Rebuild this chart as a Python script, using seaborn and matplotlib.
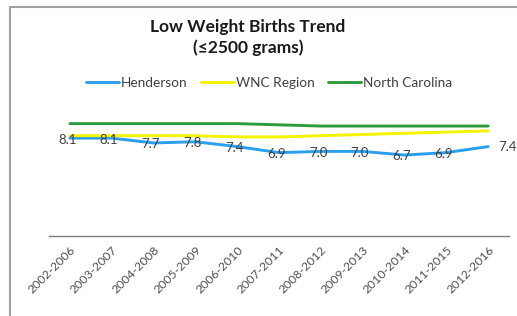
import matplotlib
matplotlib.use("Agg")
import matplotlib.pyplot as plt
import seaborn as sns
import pandas as pd
from matplotlib.patches import Rectangle

periods = ["2002-2006", "2003-2007", "2004-2008", "2005-2009", "2006-2010", "2007-2011",
           "2008-2012", "2009-2013", "2010-2014", "2011-2015", "2012-2016"]
henderson = [8.1, 8.1, 7.7, 7.8, 7.4, 6.9, 7.0, 7.0, 6.7, 6.9, 7.4]
wnc = [8.3, 8.3, 8.3, 8.3, 8.2, 8.2, 8.3, 8.4, 8.5, 8.6, 8.7]
nc = [9.3, 9.3, 9.3, 9.3, 9.3, 9.2, 9.1, 9.1, 9.1, 9.1, 9.1]
series_names = ["Henderson", "WNC Region", "North Carolina"]
colors = ["#2A9FEE", "#F4F400", "#2E9B3A"]

sns.set_theme(style="white")
plt.rcParams['font.family'] = ['Lato', 'DejaVu Sans']

rows = []
for name, vals in zip(series_names, [henderson, wnc, nc]):
    for i, v in enumerate(vals):
        rows.append({"idx": i, "period": periods[i], "value": v, "series": name})
df = pd.DataFrame(rows)

fig = plt.figure(figsize=(5.17, 3.16), dpi=100)
W, H = 517, 316
ax = fig.add_axes([49 / W, 1 - 236 / H, (509 - 49) / W, (236 - 91) / H])

sns.lineplot(data=df, x="idx", y="value", hue="series", hue_order=series_names,
             palette=colors, linewidth=2.1, ax=ax, legend=True, sort=False)

ax.set_xlim(-0.5, 10.5)
ax.set_ylim(0, 12)
ax.set_yticks([])
ax.set_xticks(range(len(periods)))
ax.set_xticklabels(periods, rotation=45, ha="right", rotation_mode="anchor",
                   fontsize=8.8, color="#505050")
ax.tick_params(axis="x", length=0, pad=6)
ax.set_xlabel("")
ax.set_ylabel("")
for s in ["top", "right", "left"]:
    ax.spines[s].set_visible(False)
ax.spines["bottom"].set_color("#808080")
ax.spines["bottom"].set_linewidth(1.0)

for i, v in enumerate(henderson):
    if i == len(henderson) - 1:
        ax.annotate(f"{v:.1f}", (i, v), xytext=(7, 0), textcoords="offset points",
                    ha="left", va="center", fontsize=9.5, color="#404040")
    else:
        ax.annotate(f"{v:.1f}", (i, v), xytext=(-2, -1), textcoords="offset points",
                    ha="center", va="center", fontsize=9.5, color="#404040")

leg = ax.legend(loc="center", bbox_to_anchor=(269 / W, 1 - 83 / H),
                bbox_transform=fig.transFigure, ncol=3, frameon=False,
                handlelength=2.4, handletextpad=0.15, columnspacing=1.0,
                fontsize=9.8, title=None)
for t in leg.get_texts():
    t.set_color("#404040")

fig.text(248 / W, 1 - 27 / H, "Low Weight Births Trend", ha="center", va="center",
         fontsize=12.5, fontweight="bold", color="#1a1a1a")
fig.text(248 / W, 1 - 48 / H, "(≤2500 grams)", ha="center", va="center",
         fontsize=12.5, fontweight="bold", color="#1a1a1a")

fig.patches.append(Rectangle((10 / W, -0.05), 1.2, 1 - 7 / H + 0.05,
                             transform=fig.transFigure, fill=False,
                             edgecolor="#A0A0A0", linewidth=1.5))

fig.savefig("out.png", dpi=100)
